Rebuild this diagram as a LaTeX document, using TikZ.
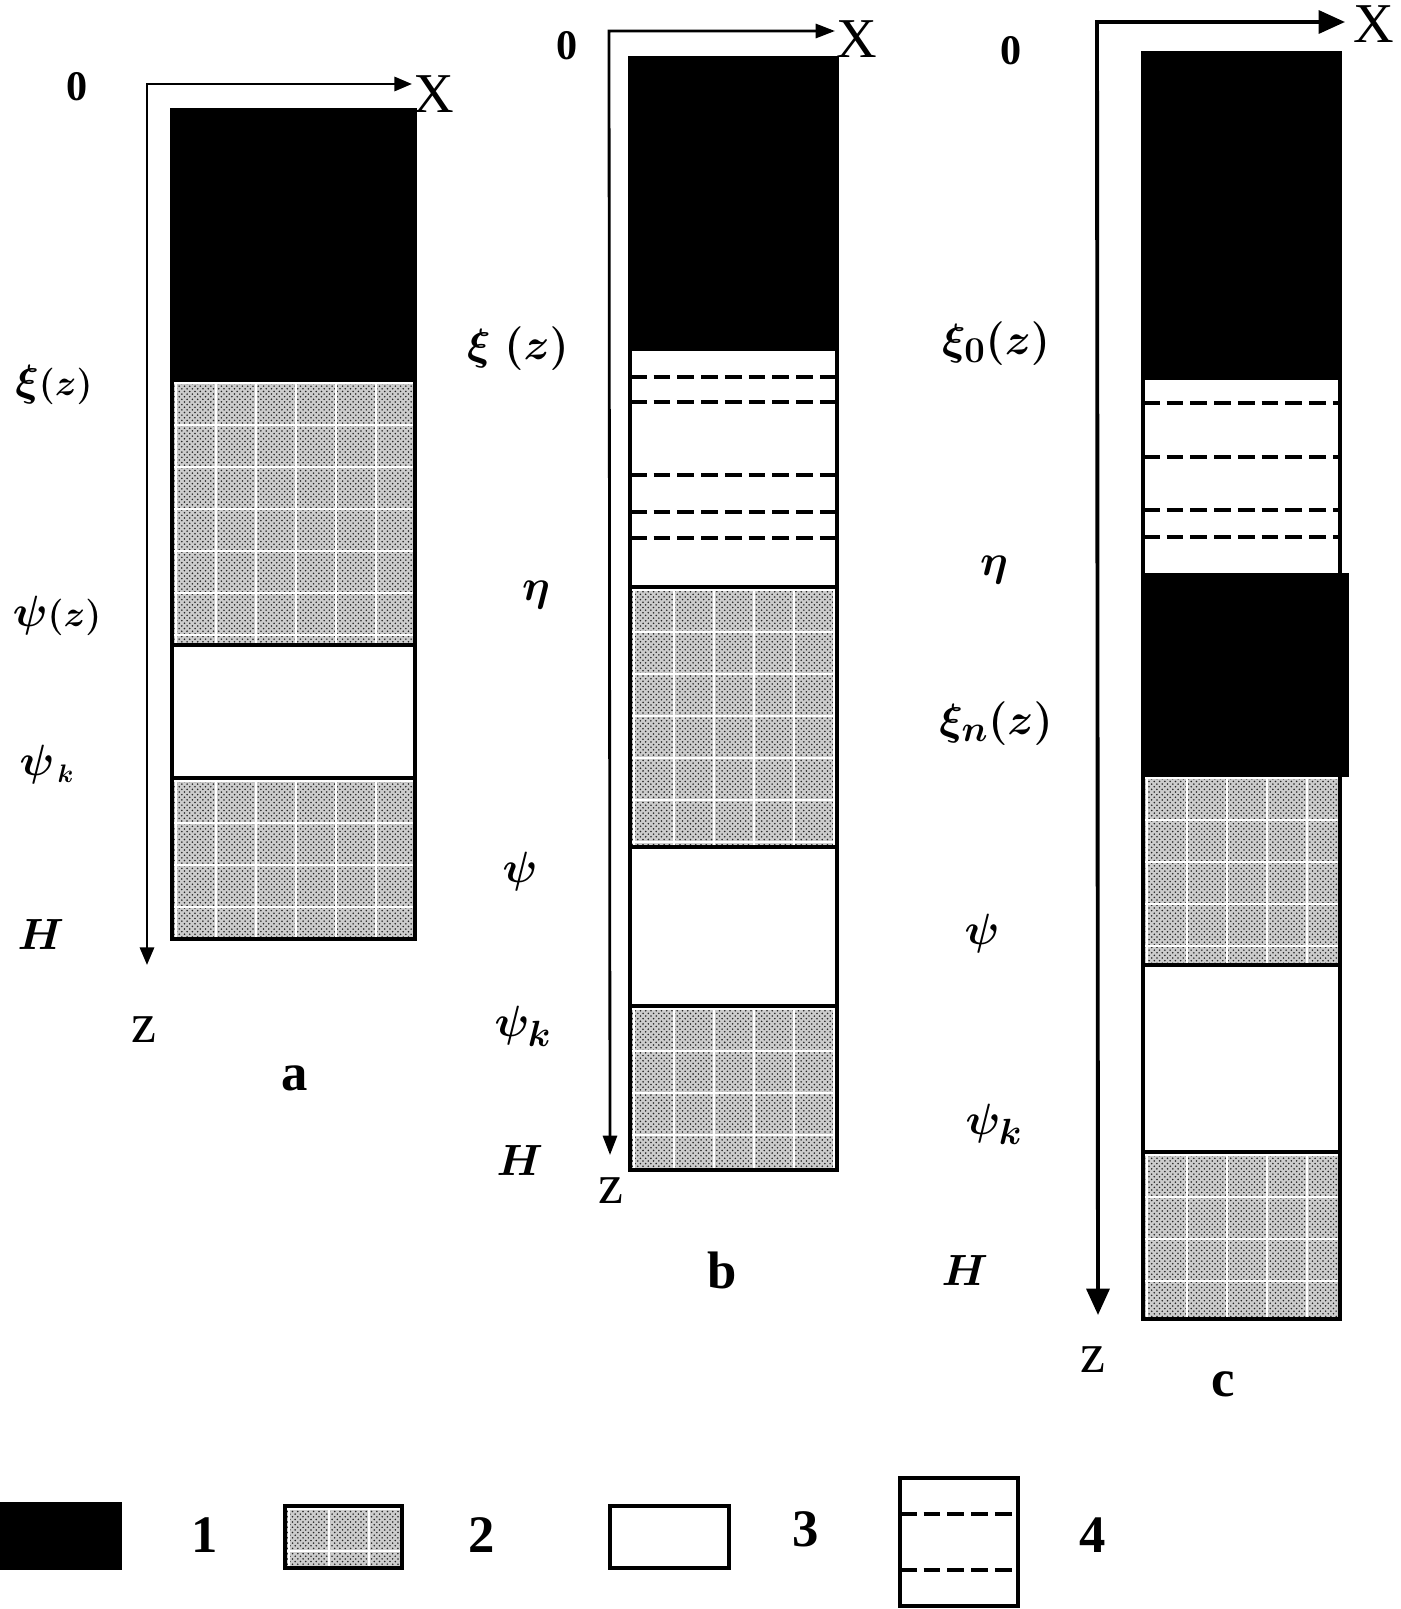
\documentclass[tikz,border=0pt]{standalone}
\usepackage{fontspec}
\setmainfont{Liberation Serif}
\usetikzlibrary{arrows.meta,patterns}
\tikzset{
  col/.style={draw=black,line width=1.8pt},
  blk/.style={fill=black,draw=black,line width=1.8pt},
  dsh/.style={draw=black,line width=2.6pt,dash pattern=on 9.5pt off 4pt},
  gridw/.style={draw=white,line width=1.5pt},
  axa/.style={line width=1.6pt,{Triangle[length=10pt,width=8pt]}-{Triangle[length=10pt,width=8pt]}},
  axb/.style={line width=1.6pt,{Triangle[length=11pt,width=8pt]}-{Triangle[length=11pt,width=8pt]}},
  axc/.style={line width=2.2pt,{Triangle[length=15pt,width=13pt]}-{Triangle[length=15pt,width=13pt]}},
  num/.style={inner sep=0,font=\fontsize{24}{28}\selectfont\bfseries},
  axl/.style={inner sep=0,font=\fontsize{32}{38}\selectfont},
  ml/.style={inner sep=0,font=\fontsize{31}{37}\selectfont\boldmath},
  capl/.style={inner sep=0,font=\fontsize{30}{36}\selectfont\bfseries}
}
\newcommand\hatchrect[4]{%
  \begin{scope}
    \clip (#1,#2) rectangle (#3,#4);
    \fill[gray!40] (#1,#2) rectangle (#3,#4);
    \fill[pattern=crosshatch dots,pattern color=black!85] (#1,#2) rectangle (#3,#4);
    \foreach \k in {0,...,7} \draw[gridw] ({#1+4+\k*40},#2) -- ++(0,320);
    \foreach \k in {0,...,8} \draw[gridw] (#1,{#2+3+\k*42}) -- ++(320,0);
  \end{scope}
  \draw[col] (#1,#2) rectangle (#3,#4);}
\begin{document}
\begin{tikzpicture}[x=0.02cm,y=-0.02cm]
\useasboundingbox (0,0) rectangle (1400,1609);
% ---------------- panel a
\coordinate (a0) at (147,84);
\coordinate (ax) at (412,84);
\coordinate (az) at (147,965);
\draw[axa] (ax) -- (a0) -- (az);
\draw[blk] (172,110) rectangle (415,380);
\hatchrect{172}{380}{415}{645}
\draw[col] (172,645) rectangle (415,778);
\hatchrect{172}{778}{415}{939}
\node[num] (a0l) at (77,87) {0};
\node[axl] (axl) at (434,94) {X};
\node[axl] (azl) at (144,1030) {z};
\node[ml] (axi) at (54,385) {$\xi${\fontsize{20}{24}\selectfont$(z)$}};
\node[ml] (apsi) at (57,616) {$\psi${\fontsize{20}{24}\selectfont$(z)$}};
\node[ml] (apsik) at (47,765) {$\psi_{\scriptscriptstyle\,k}$};
\node[ml] (aH) at (41,934) {$H$};
\node[capl] (acap) at (295,1078) {a};
% ---------------- panel b
\coordinate (b0) at (609,31);
\coordinate (bx) at (835,31);
\coordinate (bz) at (610,1155);
\draw[axb] (bx) -- (b0) -- (bz);
\draw[blk] (630,58) rectangle (837,349);
\draw[col] (630,349) rectangle (837,587);
\foreach \yy in {377,402,475,512,538} \draw[dsh] (630,\yy) -- (837,\yy);
\hatchrect{630}{587}{837}{847}
\draw[col] (630,847) rectangle (837,1006);
\hatchrect{630}{1006}{837}{1170}
\node[num] (b0l) at (567,46) {0};
\node[axl] (bxl) at (857,39) {X};
\node[axl] (bzl) at (611,1191) {z};
\node[ml] (bxi) at (518,349) {$\xi\ (z)$};
\node[ml] (beta) at (536,595) {$\eta$};
\node[ml] (bpsi) at (520,872) {$\psi$};
\node[ml] (bpsik) at (523,1026) {$\psi_k$};
\node[ml] (bH) at (520,1160) {$H$};
\node[capl] (bcap) at (722,1270) {b};
% ---------------- panel c
\coordinate (c0) at (1097,22);
\coordinate (cx) at (1345,22);
\coordinate (cz) at (1098,1315);
\draw[axc] (cx) -- (c0) -- (cz);
\draw[blk] (1143,53) rectangle (1340,378);
\draw[col] (1143,378) rectangle (1340,575);
\foreach \yy in {403,457,510,537} \draw[dsh] (1143,\yy) -- (1340,\yy);
\draw[blk] (1143,575) rectangle (1347,775);
\hatchrect{1143}{775}{1340}{965}
\draw[col] (1143,965) rectangle (1340,1152);
\hatchrect{1143}{1152}{1340}{1319}
\node[num] (c0l) at (1011,51) {0};
\node[axl] (cxl) at (1374,24) {X};
\node[axl] (czl) at (1093,1360) {z};
\node[ml] (cxi) at (996,344) {$\xi_0(z)$};
\node[ml] (ceta) at (994,570) {$\eta$};
\node[ml] (cxin) at (996,724) {$\xi_n(z)$};
\node[ml] (cpsi) at (982,934) {$\psi$};
\node[ml] (cpsik) at (994,1124) {$\psi_k$};
\node[ml] (cH) at (965,1270) {$H$};
\node[capl] (ccap) at (1223,1384) {c};
% ---------------- legend
\draw[blk] (0,1504) rectangle (120,1568);
\node[capl] (l1) at (205,1535) {1};
\hatchrect{285}{1506}{402}{1568}
\node[capl] (l2) at (482,1535) {2};
\draw[col] (610,1506) rectangle (729,1568);
\node[capl] (l3) at (806,1529) {3};
\draw[col] (900,1478) rectangle (1018,1606);
\draw[dsh] (900,1514) -- (1018,1514);
\draw[dsh] (900,1570) -- (1018,1570);
\node[capl] (l4) at (1093,1535) {4};
\end{tikzpicture}
\end{document}
